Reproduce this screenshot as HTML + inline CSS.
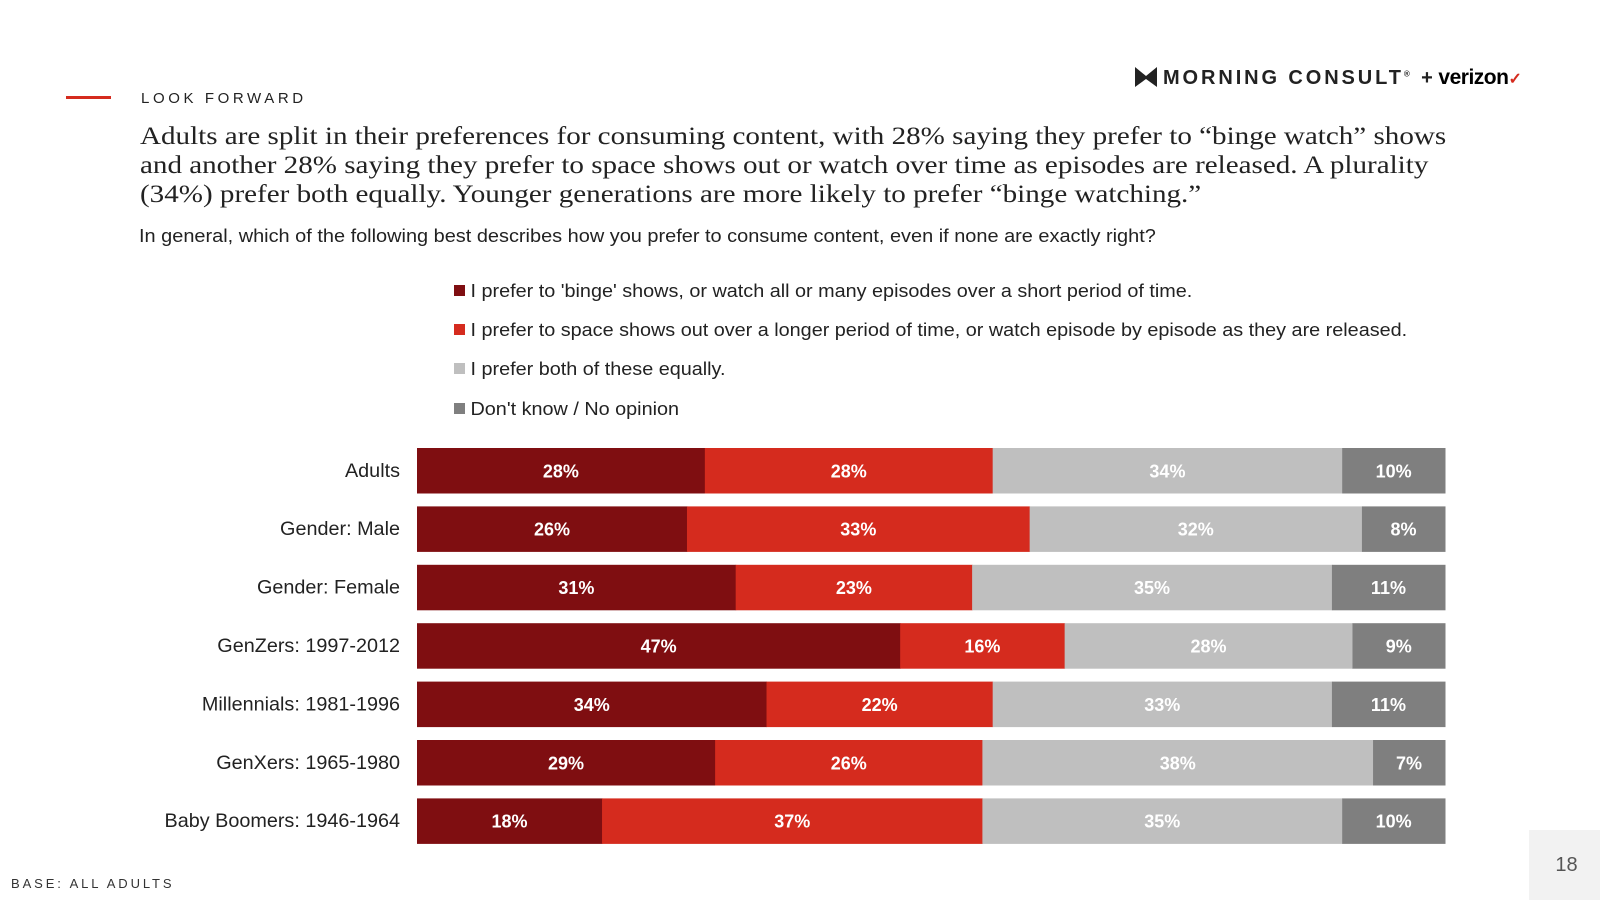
<!DOCTYPE html>
<html><head><meta charset="utf-8"><style>
body{margin:0;width:1600px;height:900px;background:#fff;position:relative;overflow:hidden;font-family:"Liberation Sans",sans-serif;color:#222}
.a{position:absolute;white-space:nowrap}
</style></head><body>
<div class="a" style="left:66px;top:96px;width:45px;height:3px;background:#d52b1e"></div>
<div class="a" style="left:141px;top:90px;font-size:15px;letter-spacing:3.6px;color:#222">LOOK FORWARD</div>
<div class="a" style="left:1135px;top:66px;font-size:20px;font-weight:bold;letter-spacing:2.9px;color:#222"><span style="display:inline-block;width:22px;height:20px;background:#222;clip-path:polygon(0 0,50% 45%,100% 0,100% 100%,50% 60%,0 100%);vertical-align:-3px;margin-right:6px"></span>MORNING CONSULT<sup style="font-size:8px">®</sup> <span style="letter-spacing:0">+ </span><span style="letter-spacing:-0.5px;font-size:21px;color:#000">verizon</span><span style="color:#d52b1e;font-size:16px;letter-spacing:0">✓</span></div>
<div class="a" style="left:140px;top:121px;font-family:'Liberation Serif',serif;font-size:25.5px;line-height:29px;color:#222;transform:scaleX(1.14);transform-origin:0 0">Adults are split in their preferences for consuming content, with 28% saying they prefer to “binge watch” shows<br>and another 28% saying they prefer to space shows out or watch over time as episodes are released. A plurality<br>(34%) prefer both equally. Younger generations are more likely to prefer “binge watching.”</div>
<div class="a" style="left:139px;top:226px;font-size:18px;color:#222;transform:scaleX(1.107);transform-origin:0 0">In general, which of the following best describes how you prefer to consume content, even if none are exactly right?</div>
<div id="legend"></div>
<svg id="chart" class="a" style="left:0;top:0" width="1600" height="900"></svg>
<div class="a" style="left:11px;top:876px;font-size:13px;letter-spacing:2.9px;color:#333">BASE: ALL ADULTS</div>
<div class="a" style="left:1529px;top:830px;width:71px;height:70px;background:#f2f2f2;font-size:20px;color:#555;text-align:center;line-height:70px;box-sizing:border-box;padding-left:4px">18</div>
<script>
const categories=["Adults","Gender: Male","Gender: Female","GenZers: 1997-2012","Millennials: 1981-1996","GenXers: 1965-1980","Baby Boomers: 1946-1964"];
const binge=[28,26,31,47,34,29,18];
const spaceOut=[28,33,23,16,22,26,37];
const both=[34,32,35,28,33,38,35];
const dontKnow=[10,8,11,9,11,7,10];
const seriesNames=["I prefer to 'binge' shows, or watch all or many episodes over a short period of time.","I prefer to space shows out over a longer period of time, or watch episode by episode as they are released.","I prefer both of these equally.","Don't know / No opinion"];
const colors=["#7f0e11","#d52b1e","#bfbfbf","#7f7f7f"];
const series=[binge,spaceOut,both,dontKnow];
const keys=["binge","space-out","both","dont-know"];
const svg=document.getElementById('chart');const NS="http://www.w3.org/2000/svg";
const x0=417,x1=1445,top0=448,pitch=58.4,bh=45.5;
const lg=document.getElementById('legend');
seriesNames.forEach((n,i)=>{
 const d=document.createElement('div');d.className='a';
 
 
 d.style.cssText=`left:454px;top:${281+i*39.2}px;font-size:18px;color:#222;transform:scaleX(1.1);transform-origin:0 0`;
 d.innerHTML=`<span style="display:inline-block;width:10px;height:11px;background:${colors[i]};margin-right:5px;vertical-align:1px"></span>`+n;
 lg.appendChild(d);
});
categories.forEach((c,r)=>{
 const y=top0+r*pitch;
 const tot=series.reduce((s,a)=>s+a[r],0);
 const sx=v=>(x1-x0)*v/tot;
 const t=document.createElementNS(NS,'text');
 
 
 t.setAttribute('x',400);t.setAttribute('y',y+bh/2+6);t.setAttribute('text-anchor','end');
 t.setAttribute('font-size','19.5');t.setAttribute('fill','#222');t.setAttribute('font-family','Liberation Sans, sans-serif');
 t.textContent=c;svg.appendChild(t);
 const bw=t.getComputedTextLength();
 t.setAttribute('textLength',bw*1.07*18.5/19.5+ bw*0);
 t.setAttribute('lengthAdjust','spacingAndGlyphs');
 let x=x0;
 series.forEach((s,i)=>{
  const w=sx(s[r]);
  const rc=document.createElementNS(NS,'rect');
  
  
  rc.setAttribute('x',x);rc.setAttribute('y',y);rc.setAttribute('width',w+0.5);rc.setAttribute('height',bh);rc.setAttribute('fill',colors[i]);
  svg.appendChild(rc);
  const l=document.createElementNS(NS,'text');
  
  
  l.setAttribute('x',x+w/2);l.setAttribute('y',y+bh/2+6.5);l.setAttribute('text-anchor','middle');
  l.setAttribute('font-size','18');l.setAttribute('font-weight','bold');l.setAttribute('fill','#fff');l.setAttribute('font-family','Liberation Sans, sans-serif');
  l.textContent=s[r]+'%';svg.appendChild(l);
  x+=w;
 });
});
</script>
</body></html>
